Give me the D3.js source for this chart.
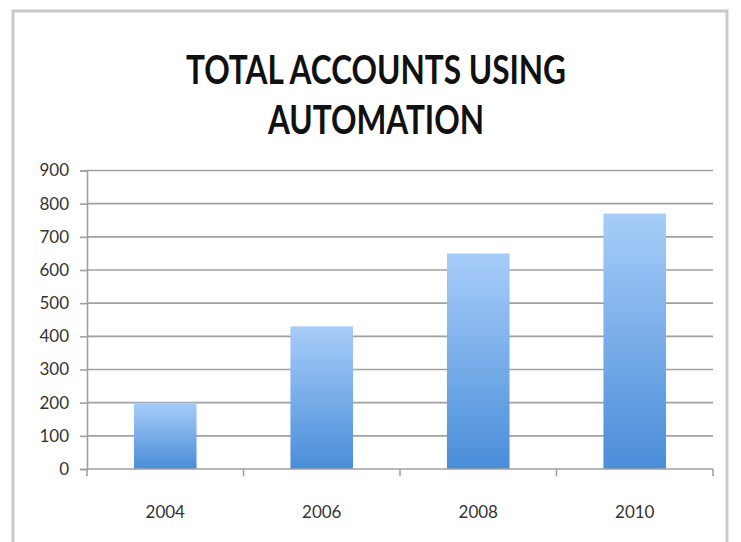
<!DOCTYPE html>
<html>
<head>
<meta charset="utf-8">
<script src="https://cdn.jsdelivr.net/npm/d3@7"></script>
<style>
  html, body { margin: 0; padding: 0; background: #fff; }
  svg { display: block; }
</style>
</head>
<body>
<svg id="chart" width="741" height="542"></svg>
<script>
// Chart data
const years = ["2004", "2006", "2008", "2010"];
const accounts = [200, 430, 650, 770];
const yTicks = [0, 100, 200, 300, 400, 500, 600, 700, 800, 900];
const titleLines = ["TOTAL ACCOUNTS USING", "AUTOMATION"];

const svg = d3.select("#chart");
const font = "Lato, 'Open Sans', sans-serif";

// Outer frame
svg.append("rect")
  .attr("x", 13).attr("y", 11)
  .attr("width", 714).attr("height", 540)
  .attr("fill", "#fff")
  .attr("stroke", "#c9c9c9")
  .attr("stroke-width", 3);

// Title (condensed horizontally for a narrow, tall look)
const titleCx = 376;
svg.append("g")
  .attr("transform", `translate(${titleCx},0) scale(0.77,1)`)
  .selectAll("text")
  .data(titleLines)
  .join("text")
  .attr("x", 0)
  .attr("y", (d, i) => 84 + i * 50)
  .attr("text-anchor", "middle")
  .attr("font-family", font)
  .attr("font-weight", "bold")
  .attr("font-size", 41)
  .attr("fill", "#111")
  .text(d => d);

const plot = { left: 87, right: 713, top: 170.5, bottom: 469 };

const x = d3.scaleBand()
  .domain(years)
  .range([plot.left, plot.right])
  .padding(0);

const y = d3.scaleLinear()
  .domain([0, 900])
  .range([plot.bottom, plot.top]);

// Gradient for bars
const defs = svg.append("defs");
const grad = defs.append("linearGradient")
  .attr("id", "barGrad")
  .attr("x1", 0).attr("y1", 0).attr("x2", 0).attr("y2", 1);
grad.append("stop").attr("offset", "0%").attr("stop-color", "#a7cdf9");
grad.append("stop").attr("offset", "100%").attr("stop-color", "#4a8dd9");

// Horizontal gridlines
svg.append("g").selectAll("line")
  .data(yTicks.filter(t => t > 0))
  .join("line")
  .attr("x1", plot.left).attr("x2", plot.right)
  .attr("y1", d => y(d)).attr("y2", d => y(d))
  .attr("stroke", "#a0a0a0")
  .attr("stroke-width", 1.6);

// Y axis
const yAxis = svg.append("g")
  .attr("transform", `translate(${plot.left},0)`)
  .call(d3.axisLeft(y).tickValues(yTicks).tickSize(7).tickPadding(11));
yAxis.select(".domain").attr("stroke", "#a0a0a0").attr("stroke-width", 1.6);
yAxis.selectAll(".tick line").attr("stroke", "#a0a0a0").attr("stroke-width", 1.6);
yAxis.selectAll(".tick text")
  .attr("font-family", font)
  .attr("font-size", 17)
  .attr("fill", "#333");

// Bars
const barFrac = 0.4;
svg.append("g").selectAll("rect")
  .data(years.map((yr, i) => ({ yr, v: accounts[i] })))
  .join("rect")
  .attr("x", d => x(d.yr) + x.bandwidth() * (1 - barFrac) / 2)
  .attr("width", x.bandwidth() * barFrac)
  .attr("y", d => y(d.v))
  .attr("height", d => y(0) - y(d.v))
  .attr("fill", "url(#barGrad)");

// X axis: ticks at category boundaries
const xAxisG = svg.append("g");
xAxisG.append("line")
  .attr("x1", plot.left).attr("x2", plot.right)
  .attr("y1", y(0)).attr("y2", y(0))
  .attr("stroke", "#a0a0a0").attr("stroke-width", 1.6);
const bounds = years.map(yr => x(yr)).concat([x(years[years.length - 1]) + x.bandwidth()]);
xAxisG.selectAll("line.tk")
  .data(bounds)
  .join("line")
  .attr("class", "tk")
  .attr("x1", d => d).attr("x2", d => d)
  .attr("y1", y(0)).attr("y2", y(0) + 7)
  .attr("stroke", "#a0a0a0").attr("stroke-width", 1.6);
xAxisG.selectAll("text")
  .data(years)
  .join("text")
  .attr("x", d => x(d) + x.bandwidth() / 2)
  .attr("y", 518)
  .attr("text-anchor", "middle")
  .attr("font-family", font)
  .attr("font-size", 17)
  .attr("fill", "#333")
  .text(d => d);
</script>
</body>
</html>
